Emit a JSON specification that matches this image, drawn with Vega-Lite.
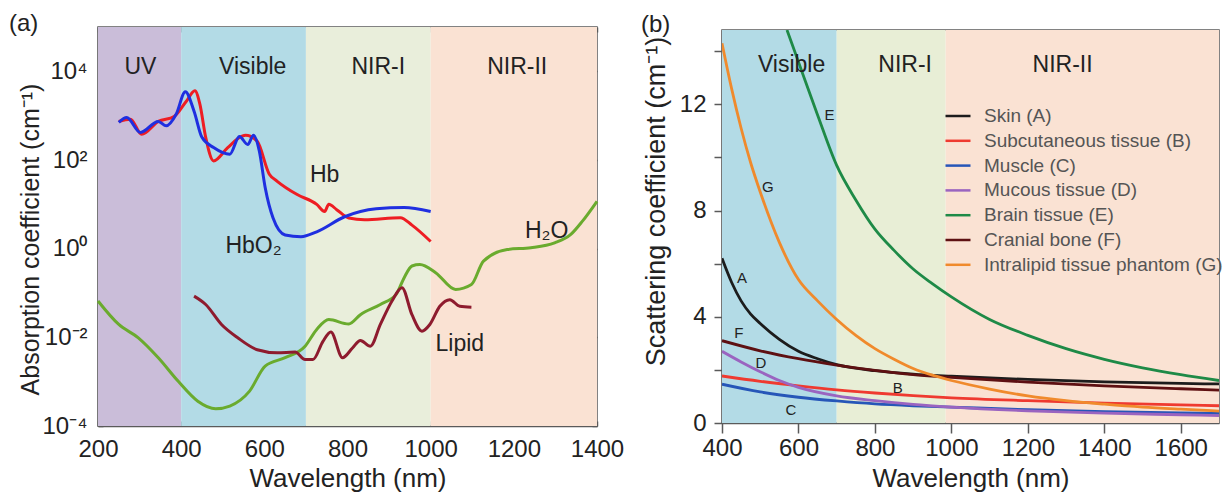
{
  "$schema": "https://vega.github.io/schema/vega-lite/v6.json",
  "padding": {"left": 8, "top": 11, "right": 0, "bottom": 0},
  "background": "white",
  "spacing": 125,
  "bounds": "flush",
  "center": true,
  "config": {
    "font": "Liberation Sans",
    "view": {"stroke": "#5a5a5a", "strokeWidth": 1.5},
    "axis": {
      "grid": false,
      "domainColor": "#5a5a5a",
      "domainWidth": 1.5,
      "tickColor": "#5a5a5a",
      "tickWidth": 1.5,
      "labelColor": "#222222",
      "titleColor": "#222222",
      "labelFont": "Liberation Sans",
      "titleFont": "Liberation Sans",
      "labelFontSize": 24,
      "titleFontSize": 26,
      "titleFontWeight": "normal",
      "labelFlush": false,
      "labelOverlap": false
    },
    "title": {"font": "Liberation Sans", "fontWeight": "normal", "color": "#222222"}
  },
  "datasets": {
    "bandsA": [
      {"name": "UV", "start": 200, "end": 400},
      {"name": "Visible", "start": 400, "end": 700},
      {"name": "NIR-I", "start": 700, "end": 1000},
      {"name": "NIR-II", "start": 1000, "end": 1400}
    ],
    "bandsB": [
      {"name": "Visible", "start": 400, "end": 700},
      {"name": "NIR-I", "start": 700, "end": 985},
      {"name": "NIR-II", "start": 985, "end": 1700}
    ],
    "absorb": [
      {"series": "Hb", "wl": 250, "v": 741}, {"series": "Hb", "wl": 278, "v": 832}, {"series": "Hb", "wl": 305, "v": 380},
      {"series": "Hb", "wl": 345, "v": 741}, {"series": "Hb", "wl": 383, "v": 955}, {"series": "Hb", "wl": 412, "v": 2089},
      {"series": "Hb", "wl": 433, "v": 3631}, {"series": "Hb", "wl": 445, "v": 1820}, {"series": "Hb", "wl": 459, "v": 324},
      {"series": "Hb", "wl": 478, "v": 95.5}, {"series": "Hb", "wl": 512, "v": 191}, {"series": "Hb", "wl": 545, "v": 339},
      {"series": "Hb", "wl": 555, "v": 363}, {"series": "Hb", "wl": 583, "v": 263}, {"series": "Hb", "wl": 612, "v": 47.9},
      {"series": "Hb", "wl": 631, "v": 33.1}, {"series": "Hb", "wl": 679, "v": 16.6}, {"series": "Hb", "wl": 726, "v": 10},
      {"series": "Hb", "wl": 745, "v": 6.92}, {"series": "Hb", "wl": 755, "v": 10}, {"series": "Hb", "wl": 774, "v": 7.59},
      {"series": "Hb", "wl": 803, "v": 4.9}, {"series": "Hb", "wl": 841, "v": 4.47}, {"series": "Hb", "wl": 927, "v": 5.01},
      {"series": "Hb", "wl": 955, "v": 3.39}, {"series": "Hb", "wl": 1000, "v": 1.45},
      {"series": "HbO2", "wl": 250, "v": 708}, {"series": "HbO2", "wl": 269, "v": 912}, {"series": "HbO2", "wl": 302, "v": 417},
      {"series": "HbO2", "wl": 345, "v": 741}, {"series": "HbO2", "wl": 364, "v": 589}, {"series": "HbO2", "wl": 388, "v": 1072},
      {"series": "HbO2", "wl": 410, "v": 3467}, {"series": "HbO2", "wl": 431, "v": 1259}, {"series": "HbO2", "wl": 450, "v": 324},
      {"series": "HbO2", "wl": 478, "v": 191}, {"series": "HbO2", "wl": 517, "v": 135}, {"series": "HbO2", "wl": 540, "v": 339},
      {"series": "HbO2", "wl": 560, "v": 224}, {"series": "HbO2", "wl": 574, "v": 363}, {"series": "HbO2", "wl": 588, "v": 158},
      {"series": "HbO2", "wl": 602, "v": 24}, {"series": "HbO2", "wl": 621, "v": 4.9}, {"series": "HbO2", "wl": 650, "v": 2.04},
      {"series": "HbO2", "wl": 688, "v": 1.86}, {"series": "HbO2", "wl": 726, "v": 2.4}, {"series": "HbO2", "wl": 793, "v": 5.25},
      {"series": "HbO2", "wl": 869, "v": 7.94}, {"series": "HbO2", "wl": 936, "v": 8.51}, {"series": "HbO2", "wl": 1000, "v": 6.92},
      {"series": "H2O", "wl": 200, "v": 0.0661}, {"series": "H2O", "wl": 250, "v": 0.0195}, {"series": "H2O", "wl": 297, "v": 0.00977},
      {"series": "H2O", "wl": 345, "v": 0.00347}, {"series": "H2O", "wl": 393, "v": 0.00102}, {"series": "H2O", "wl": 440, "v": 0.000363},
      {"series": "H2O", "wl": 483, "v": 0.000245}, {"series": "H2O", "wl": 517, "v": 0.000282}, {"series": "H2O", "wl": 564, "v": 0.000603},
      {"series": "H2O", "wl": 602, "v": 0.00224}, {"series": "H2O", "wl": 650, "v": 0.00347}, {"series": "H2O", "wl": 698, "v": 0.00631},
      {"series": "H2O", "wl": 726, "v": 0.0151}, {"series": "H2O", "wl": 755, "v": 0.0251}, {"series": "H2O", "wl": 803, "v": 0.02},
      {"series": "H2O", "wl": 831, "v": 0.0324}, {"series": "H2O", "wl": 879, "v": 0.055}, {"series": "H2O", "wl": 917, "v": 0.0933},
      {"series": "H2O", "wl": 936, "v": 0.219}, {"series": "H2O", "wl": 955, "v": 0.407}, {"series": "H2O", "wl": 974, "v": 0.437},
      {"series": "H2O", "wl": 1012, "v": 0.288}, {"series": "H2O", "wl": 1060, "v": 0.12}, {"series": "H2O", "wl": 1098, "v": 0.155},
      {"series": "H2O", "wl": 1127, "v": 0.525}, {"series": "H2O", "wl": 1184, "v": 0.955}, {"series": "H2O", "wl": 1241, "v": 1.05},
      {"series": "H2O", "wl": 1298, "v": 1.35}, {"series": "H2O", "wl": 1337, "v": 2.09}, {"series": "H2O", "wl": 1365, "v": 4.17},
      {"series": "H2O", "wl": 1400, "v": 11.7},
      {"series": "Lipid", "wl": 431, "v": 0.0851}, {"series": "Lipid", "wl": 459, "v": 0.055}, {"series": "Lipid", "wl": 497, "v": 0.0195},
      {"series": "Lipid", "wl": 536, "v": 0.00977}, {"series": "Lipid", "wl": 583, "v": 0.00525}, {"series": "Lipid", "wl": 631, "v": 0.00447},
      {"series": "Lipid", "wl": 674, "v": 0.00468}, {"series": "Lipid", "wl": 698, "v": 0.00316}, {"series": "Lipid", "wl": 717, "v": 0.00316},
      {"series": "Lipid", "wl": 741, "v": 0.00813}, {"series": "Lipid", "wl": 760, "v": 0.0132}, {"series": "Lipid", "wl": 788, "v": 0.00347},
      {"series": "Lipid", "wl": 812, "v": 0.00575}, {"series": "Lipid", "wl": 831, "v": 0.00851}, {"series": "Lipid", "wl": 855, "v": 0.00631},
      {"series": "Lipid", "wl": 879, "v": 0.0195}, {"series": "Lipid", "wl": 907, "v": 0.0661}, {"series": "Lipid", "wl": 931, "v": 0.132},
      {"series": "Lipid", "wl": 955, "v": 0.0324}, {"series": "Lipid", "wl": 979, "v": 0.0138}, {"series": "Lipid", "wl": 998, "v": 0.0195},
      {"series": "Lipid", "wl": 1022, "v": 0.0501}, {"series": "Lipid", "wl": 1046, "v": 0.0708}, {"series": "Lipid", "wl": 1070, "v": 0.0501},
      {"series": "Lipid", "wl": 1098, "v": 0.0479}
    ],
    "labelsA": [
      {"t": "UV", "wl": 302, "v": 12300},
      {"t": "Visible", "wl": 572, "v": 12300},
      {"t": "NIR-I", "wl": 874, "v": 12300},
      {"t": "NIR-II", "wl": 1208, "v": 12300},
      {"t": "Hb", "wl": 745, "v": 46.8},
      {"t": "HbO₂", "wl": 574, "v": 1.12},
      {"t": "H₂O", "wl": 1279, "v": 2.45},
      {"t": "Lipid", "wl": 1070, "v": 0.00692}
    ],
    "scatter": [
      {"tissue": "Skin (A)", "wl": 400, "v": 6.2}, {"tissue": "Skin (A)", "wl": 425, "v": 5.3}, {"tissue": "Skin (A)", "wl": 450, "v": 4.6},
      {"tissue": "Skin (A)", "wl": 475, "v": 4.1}, {"tissue": "Skin (A)", "wl": 500, "v": 3.75}, {"tissue": "Skin (A)", "wl": 550, "v": 3.15},
      {"tissue": "Skin (A)", "wl": 600, "v": 2.7}, {"tissue": "Skin (A)", "wl": 650, "v": 2.42}, {"tissue": "Skin (A)", "wl": 700, "v": 2.2},
      {"tissue": "Skin (A)", "wl": 800, "v": 1.97}, {"tissue": "Skin (A)", "wl": 900, "v": 1.84}, {"tissue": "Skin (A)", "wl": 1000, "v": 1.76},
      {"tissue": "Skin (A)", "wl": 1200, "v": 1.64}, {"tissue": "Skin (A)", "wl": 1400, "v": 1.55}, {"tissue": "Skin (A)", "wl": 1600, "v": 1.49},
      {"tissue": "Skin (A)", "wl": 1700, "v": 1.47},
      {"tissue": "Subcutaneous tissue (B)", "wl": 400, "v": 1.77}, {"tissue": "Subcutaneous tissue (B)", "wl": 500, "v": 1.57},
      {"tissue": "Subcutaneous tissue (B)", "wl": 600, "v": 1.4}, {"tissue": "Subcutaneous tissue (B)", "wl": 700, "v": 1.25},
      {"tissue": "Subcutaneous tissue (B)", "wl": 800, "v": 1.13}, {"tissue": "Subcutaneous tissue (B)", "wl": 900, "v": 1.03},
      {"tissue": "Subcutaneous tissue (B)", "wl": 1000, "v": 0.95}, {"tissue": "Subcutaneous tissue (B)", "wl": 1200, "v": 0.84},
      {"tissue": "Subcutaneous tissue (B)", "wl": 1400, "v": 0.75}, {"tissue": "Subcutaneous tissue (B)", "wl": 1600, "v": 0.68},
      {"tissue": "Subcutaneous tissue (B)", "wl": 1700, "v": 0.65},
      {"tissue": "Muscle (C)", "wl": 400, "v": 1.46}, {"tissue": "Muscle (C)", "wl": 500, "v": 1.17}, {"tissue": "Muscle (C)", "wl": 600, "v": 0.97},
      {"tissue": "Muscle (C)", "wl": 700, "v": 0.83}, {"tissue": "Muscle (C)", "wl": 800, "v": 0.72}, {"tissue": "Muscle (C)", "wl": 900, "v": 0.65},
      {"tissue": "Muscle (C)", "wl": 1000, "v": 0.6}, {"tissue": "Muscle (C)", "wl": 1200, "v": 0.5}, {"tissue": "Muscle (C)", "wl": 1400, "v": 0.43},
      {"tissue": "Muscle (C)", "wl": 1600, "v": 0.38}, {"tissue": "Muscle (C)", "wl": 1700, "v": 0.36},
      {"tissue": "Mucous tissue (D)", "wl": 400, "v": 2.7}, {"tissue": "Mucous tissue (D)", "wl": 450, "v": 2.3},
      {"tissue": "Mucous tissue (D)", "wl": 500, "v": 1.93}, {"tissue": "Mucous tissue (D)", "wl": 550, "v": 1.6},
      {"tissue": "Mucous tissue (D)", "wl": 600, "v": 1.34}, {"tissue": "Mucous tissue (D)", "wl": 700, "v": 1.02},
      {"tissue": "Mucous tissue (D)", "wl": 800, "v": 0.84}, {"tissue": "Mucous tissue (D)", "wl": 900, "v": 0.7},
      {"tissue": "Mucous tissue (D)", "wl": 1000, "v": 0.6}, {"tissue": "Mucous tissue (D)", "wl": 1200, "v": 0.46},
      {"tissue": "Mucous tissue (D)", "wl": 1400, "v": 0.37}, {"tissue": "Mucous tissue (D)", "wl": 1600, "v": 0.31},
      {"tissue": "Mucous tissue (D)", "wl": 1700, "v": 0.28},
      {"tissue": "Brain tissue (E)", "wl": 570, "v": 14.8}, {"tissue": "Brain tissue (E)", "wl": 600, "v": 13.6},
      {"tissue": "Brain tissue (E)", "wl": 650, "v": 11.6}, {"tissue": "Brain tissue (E)", "wl": 700, "v": 9.7},
      {"tissue": "Brain tissue (E)", "wl": 750, "v": 8.4}, {"tissue": "Brain tissue (E)", "wl": 800, "v": 7.3},
      {"tissue": "Brain tissue (E)", "wl": 850, "v": 6.5}, {"tissue": "Brain tissue (E)", "wl": 900, "v": 5.8},
      {"tissue": "Brain tissue (E)", "wl": 950, "v": 5.25}, {"tissue": "Brain tissue (E)", "wl": 1000, "v": 4.75},
      {"tissue": "Brain tissue (E)", "wl": 1100, "v": 3.9}, {"tissue": "Brain tissue (E)", "wl": 1200, "v": 3.3},
      {"tissue": "Brain tissue (E)", "wl": 1300, "v": 2.8}, {"tissue": "Brain tissue (E)", "wl": 1400, "v": 2.4},
      {"tissue": "Brain tissue (E)", "wl": 1500, "v": 2.08}, {"tissue": "Brain tissue (E)", "wl": 1600, "v": 1.82},
      {"tissue": "Brain tissue (E)", "wl": 1700, "v": 1.6},
      {"tissue": "Cranial bone (F)", "wl": 400, "v": 3.1}, {"tissue": "Cranial bone (F)", "wl": 500, "v": 2.72},
      {"tissue": "Cranial bone (F)", "wl": 600, "v": 2.42}, {"tissue": "Cranial bone (F)", "wl": 700, "v": 2.18},
      {"tissue": "Cranial bone (F)", "wl": 800, "v": 1.98}, {"tissue": "Cranial bone (F)", "wl": 900, "v": 1.82},
      {"tissue": "Cranial bone (F)", "wl": 1000, "v": 1.72}, {"tissue": "Cranial bone (F)", "wl": 1200, "v": 1.54},
      {"tissue": "Cranial bone (F)", "wl": 1400, "v": 1.4}, {"tissue": "Cranial bone (F)", "wl": 1600, "v": 1.29},
      {"tissue": "Cranial bone (F)", "wl": 1700, "v": 1.24},
      {"tissue": "Intralipid tissue phantom (G)", "wl": 400, "v": 14.3}, {"tissue": "Intralipid tissue phantom (G)", "wl": 425, "v": 12.6},
      {"tissue": "Intralipid tissue phantom (G)", "wl": 450, "v": 11.1}, {"tissue": "Intralipid tissue phantom (G)", "wl": 475, "v": 9.8},
      {"tissue": "Intralipid tissue phantom (G)", "wl": 500, "v": 8.7}, {"tissue": "Intralipid tissue phantom (G)", "wl": 550, "v": 6.8},
      {"tissue": "Intralipid tissue phantom (G)", "wl": 600, "v": 5.4}, {"tissue": "Intralipid tissue phantom (G)", "wl": 650, "v": 4.6},
      {"tissue": "Intralipid tissue phantom (G)", "wl": 700, "v": 3.9}, {"tissue": "Intralipid tissue phantom (G)", "wl": 750, "v": 3.3},
      {"tissue": "Intralipid tissue phantom (G)", "wl": 800, "v": 2.8}, {"tissue": "Intralipid tissue phantom (G)", "wl": 850, "v": 2.4},
      {"tissue": "Intralipid tissue phantom (G)", "wl": 900, "v": 2.05}, {"tissue": "Intralipid tissue phantom (G)", "wl": 950, "v": 1.8},
      {"tissue": "Intralipid tissue phantom (G)", "wl": 1000, "v": 1.6}, {"tissue": "Intralipid tissue phantom (G)", "wl": 1100, "v": 1.28},
      {"tissue": "Intralipid tissue phantom (G)", "wl": 1200, "v": 1.02}, {"tissue": "Intralipid tissue phantom (G)", "wl": 1300, "v": 0.84},
      {"tissue": "Intralipid tissue phantom (G)", "wl": 1400, "v": 0.71}, {"tissue": "Intralipid tissue phantom (G)", "wl": 1500, "v": 0.6},
      {"tissue": "Intralipid tissue phantom (G)", "wl": 1600, "v": 0.52}, {"tissue": "Intralipid tissue phantom (G)", "wl": 1700, "v": 0.45}
    ],
    "regionsB": [
      {"t": "Visible", "wl": 582, "v": 13.5},
      {"t": "NIR-I", "wl": 879, "v": 13.5},
      {"t": "NIR-II", "wl": 1291, "v": 13.5}
    ],
    "lettersB": [
      {"t": "A", "wl": 452, "v": 5.47},
      {"t": "B", "wl": 860, "v": 1.32},
      {"t": "C", "wl": 580, "v": 0.49},
      {"t": "D", "wl": 502, "v": 2.26},
      {"t": "E", "wl": 681, "v": 11.6},
      {"t": "F", "wl": 444, "v": 3.4},
      {"t": "G", "wl": 520, "v": 8.87}
    ]
  },
  "hconcat": [
    {
      "width": 499,
      "height": 399,
      "title": {"text": "(a)", "anchor": "start", "frame": "group", "dx": -89, "dy": 28.5, "fontSize": 24, "baseline": "alphabetic", "offset": 0},
      "resolve": {"scale": {"color": "independent"}, "axis": {"x": "independent", "y": "independent"}},
      "layer": [
        {
          "data": {"name": "bandsA"},
          "mark": {"type": "rect"},
          "encoding": {
            "x": {"field": "start", "type": "quantitative", "scale": {"domain": [200, 1400], "nice": false}, "axis": null},
            "x2": {"field": "end"},
            "color": {"field": "name", "type": "nominal", "scale": {"domain": ["UV", "Visible", "NIR-I", "NIR-II"], "range": ["#cabdd9", "#b3dbe6", "#e9eedb", "#fae2d3"]}, "legend": null}
          }
        },
        {
          "data": {"name": "absorb"},
          "mark": {"type": "line", "strokeWidth": 3, "interpolate": "monotone"},
          "encoding": {
            "x": {"field": "wl", "type": "quantitative", "scale": {"domain": [200, 1400], "nice": false},
              "axis": {"orient": "bottom", "values": [200, 400, 600, 800, 1000, 1200, 1400], "format": "d", "tickSize": -5, "labelPadding": 16, "title": "Wavelength (nm)", "titleBaseline": "alphabetic", "titleY": 60}},
            "y": {"field": "v", "type": "quantitative", "scale": {"type": "log", "domain": [0.0001, 100000], "nice": false},
              "axis": {"orient": "left", "values": [0.0001, 0.01, 1, 100, 10000], "tickSize": -5, "labelPadding": 16,
                "labelExpr": "datum.value >= 5000 ? '10⁴' : datum.value >= 50 ? '10²' : datum.value >= 0.5 ? '10⁰' : datum.value >= 0.005 ? '10⁻²' : '10⁻⁴'",
                "title": "Absorption coefficient (cm⁻¹)", "titleFontSize": 25, "titleBaseline": "middle", "titleX": -68, "titleY": 212}},
            "color": {"field": "series", "type": "nominal", "scale": {"domain": ["Hb", "HbO2", "H2O", "Lipid"], "range": ["#ee1d23", "#1f2fe0", "#6aab2e", "#8e1b2e"]}, "legend": null}
          }
        },
        {
          "data": {"name": "labelsA"},
          "mark": {"type": "text", "fontSize": 23, "color": "#222222", "align": "center", "baseline": "middle"},
          "encoding": {
            "x": {"field": "wl", "type": "quantitative", "scale": {"domain": [200, 1400], "nice": false},
              "axis": {"orient": "top", "values": [200, 400, 600, 800, 1000, 1200, 1400], "tickSize": -5, "labels": false, "domain": false, "title": null}},
            "y": {"field": "v", "type": "quantitative", "scale": {"type": "log", "domain": [0.0001, 100000], "nice": false},
              "axis": {"orient": "right", "values": [0.0001, 0.01, 1, 100, 10000], "tickSize": -5, "labels": false, "domain": false, "title": null}},
            "text": {"field": "t", "type": "nominal"}
          }
        }
      ]
    },
    {
      "width": 497,
      "height": 393,
      "title": {"text": "(b)", "anchor": "start", "frame": "group", "dx": -81, "dy": 25.5, "fontSize": 24, "baseline": "alphabetic", "offset": 0},
      "resolve": {"scale": {"color": "independent"}},
      "layer": [
        {
          "data": {"name": "bandsB"},
          "mark": {"type": "rect"},
          "encoding": {
            "x": {"field": "start", "type": "quantitative", "scale": {"domain": [400, 1700], "nice": false},
              "axis": {"orient": "bottom", "values": [400, 500, 600, 700, 800, 900, 1000, 1100, 1200, 1300, 1400, 1500, 1600, 1700], "tickSize": 10, "labelPadding": 3,
                "labelExpr": "datum.value % 200 == 0 ? datum.label : ''", "format": "d",
                "title": "Wavelength (nm)", "titleBaseline": "alphabetic", "titleY": 63}},
            "x2": {"field": "end"},
            "color": {"field": "name", "type": "nominal", "scale": {"domain": ["Visible", "NIR-I", "NIR-II"], "range": ["#b3dbe6", "#e8eed6", "#fae2d3"]}, "legend": null}
          }
        },
        {
          "data": {"name": "scatter"},
          "mark": {"type": "line", "strokeWidth": 2.8, "interpolate": "monotone", "clip": true},
          "encoding": {
            "x": {"field": "wl", "type": "quantitative", "scale": {"domain": [400, 1700], "nice": false}},
            "y": {"field": "v", "type": "quantitative", "scale": {"domain": [0, 14.8], "nice": false, "zero": false},
              "axis": {"orient": "left", "values": [0, 1, 2, 3, 4, 5, 6, 7, 8, 9, 10, 11, 12, 13, 14], "tickSize": 8, "labelPadding": 8,
                "labelExpr": "datum.value % 4 == 0 ? datum.label : ''",
                "title": "Scattering coefficient (cm⁻¹)", "titleFontSize": 27, "titleBaseline": "middle", "titleX": -66, "titleY": 171}},
            "color": {"field": "tissue", "type": "nominal",
              "scale": {"domain": ["Skin (A)", "Subcutaneous tissue (B)", "Muscle (C)", "Mucous tissue (D)", "Brain tissue (E)", "Cranial bone (F)", "Intralipid tissue phantom (G)"],
                "range": ["#1c1c1c", "#ef3a30", "#2656b8", "#9a64c0", "#1e8a47", "#5e1012", "#f08a2c"]},
              "legend": {"orient": "none", "legendX": 222, "legendY": 72, "title": null, "symbolType": "stroke", "symbolSize": 625, "symbolStrokeWidth": 2.5,
                "labelFontSize": 19, "labelColor": "#555555", "labelFont": "Liberation Sans", "labelLimit": 320, "rowPadding": 0.8, "labelOffset": 12, "padding": 0}}
          }
        },
        {
          "data": {"name": "regionsB"},
          "mark": {"type": "text", "fontSize": 23, "color": "#222222", "align": "center", "baseline": "middle"},
          "encoding": {
            "x": {"field": "wl", "type": "quantitative", "scale": {"domain": [400, 1700], "nice": false}},
            "y": {"field": "v", "type": "quantitative", "scale": {"domain": [0, 14.8], "nice": false, "zero": false}},
            "text": {"field": "t", "type": "nominal"}
          }
        },
        {
          "data": {"name": "lettersB"},
          "mark": {"type": "text", "fontSize": 15, "color": "#222222", "align": "center", "baseline": "middle"},
          "encoding": {
            "x": {"field": "wl", "type": "quantitative", "scale": {"domain": [400, 1700], "nice": false}},
            "y": {"field": "v", "type": "quantitative", "scale": {"domain": [0, 14.8], "nice": false, "zero": false}},
            "text": {"field": "t", "type": "nominal"}
          }
        }
      ]
    }
  ]
}
